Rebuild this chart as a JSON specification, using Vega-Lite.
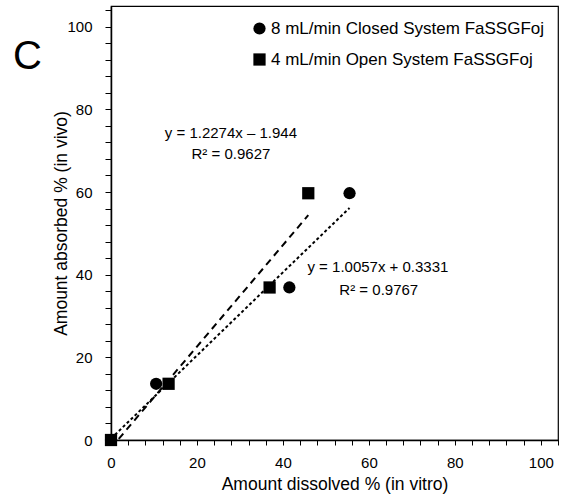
{
  "$schema": "https://vega.github.io/schema/vega-lite/v6.json",
  "width": 447,
  "height": 434,
  "autosize": {"type": "none"},
  "padding": {"left": 111, "top": 6, "right": 3, "bottom": 60},
  "background": "white",
  "config": {
    "font": "Liberation Sans",
    "view": {"stroke": "black", "strokeWidth": 1.2},
    "axis": {"grid": false, "domainColor": "black", "domainWidth": 1.5, "tickColor": "black", "tickWidth": 1, "labelColor": "black", "titleColor": "black", "labelFontSize": 15, "titleFontSize": 17.5, "titleFontWeight": "normal", "labelFont": "Liberation Sans", "titleFont": "Liberation Sans"},
    "legend": {"labelFontSize": 17, "labelColor": "black", "labelFont": "Liberation Sans", "symbolSize": 150, "symbolFillColor": "black", "symbolStrokeColor": "black", "symbolOpacity": 1, "rowPadding": 12, "labelOffset": 3, "labelLimit": 400}
  },
  "datasets": {
    "points": [
      {"series": "closed", "dissolved": 0, "absorbed": 0},
      {"series": "closed", "dissolved": 10.5, "absorbed": 13.6},
      {"series": "closed", "dissolved": 41.5, "absorbed": 36.9},
      {"series": "closed", "dissolved": 55.5, "absorbed": 59.7},
      {"series": "open", "dissolved": 0, "absorbed": 0},
      {"series": "open", "dissolved": 13.4, "absorbed": 13.6},
      {"series": "open", "dissolved": 36.9, "absorbed": 36.9},
      {"series": "open", "dissolved": 45.9, "absorbed": 59.7}
    ],
    "trend": [
      {"series": "closed", "dissolved": 0, "absorbed": 0.3331},
      {"series": "closed", "dissolved": 55.5, "absorbed": 56.15},
      {"series": "open", "dissolved": 0, "absorbed": -1.944},
      {"series": "open", "dissolved": 45.9, "absorbed": 54.39}
    ],
    "labels": [
      {"text": "y = 1.2274x – 1.944", "dissolved": 27.9, "absorbed": 74.3},
      {"text": "R² = 0.9627", "dissolved": 27.9, "absorbed": 69.3},
      {"text": "y = 1.0057x + 0.3331", "dissolved": 62.1, "absorbed": 41.9},
      {"text": "R² = 0.9767", "dissolved": 62.3, "absorbed": 36.4}
    ],
    "panel": [
      {"text": "C", "dissolved": -22.8, "absorbed": 89.8}
    ]
  },
  "encoding": {
    "x": {"field": "dissolved", "type": "quantitative", "scale": {"domain": [0, 104], "nice": false, "zero": false},
      "axis": {"title": "Amount dissolved % (in vitro)", "values": [0,4,8,12,16,20,24,28,32,36,40,44,48,52,56,60,64,68,72,76,80,84,88,92,96,100,104], "labelExpr": "datum.value % 20 == 0 ? datum.label : ''", "labelOverlap": false, "labelFlush": false, "labelBound": false, "tickSize": 5, "labelPadding": 10, "titlePadding": 5}},
    "y": {"field": "absorbed", "type": "quantitative", "scale": {"domain": [0, 105], "nice": false, "zero": false},
      "axis": {"title": "Amount absorbed % (in vivo)", "values": [0,4,8,12,16,20,24,28,32,36,40,44,48,52,56,60,64,68,72,76,80,84,88,92,96,100,104], "labelExpr": "datum.value % 20 == 0 ? datum.label : ''", "labelOverlap": false, "labelFlush": false, "labelBound": false, "tickSize": 6, "labelPadding": 13, "titlePadding": -4}}
  },
  "layer": [
    {
      "data": {"name": "trend"},
      "transform": [{"filter": "datum.series == 'closed'"}],
      "mark": {"type": "line", "clip": true, "color": "black", "strokeWidth": 2, "strokeDash": [3, 2.5]}
    },
    {
      "data": {"name": "trend"},
      "transform": [{"filter": "datum.series == 'open'"}],
      "mark": {"type": "line", "clip": true, "color": "black", "strokeWidth": 2, "strokeDash": [7, 5]}
    },
    {
      "data": {"name": "points"},
      "mark": {"type": "point", "filled": true, "color": "black", "opacity": 1, "size": 150},
      "encoding": {
        "shape": {"field": "series", "type": "nominal", "scale": {"domain": ["closed", "open"], "range": ["circle", "square"]},
          "legend": {"title": null, "orient": "none", "legendX": 140, "legendY": 14, "labelExpr": "datum.value == 'closed' ? '8 mL/min Closed System FaSSGFoj' : '4 mL/min Open System FaSSGFoj'"}}
      }
    },
    {
      "data": {"name": "labels"},
      "mark": {"type": "text", "fontSize": 15, "color": "black", "align": "center", "baseline": "middle"},
      "encoding": {
        "text": {"field": "text"}
      }
    },
    {
      "data": {"name": "panel"},
      "mark": {"type": "text", "fontSize": 40, "color": "black", "align": "left", "baseline": "alphabetic", "clip": false},
      "encoding": {
        "text": {"field": "text"}
      }
    }
  ]
}
